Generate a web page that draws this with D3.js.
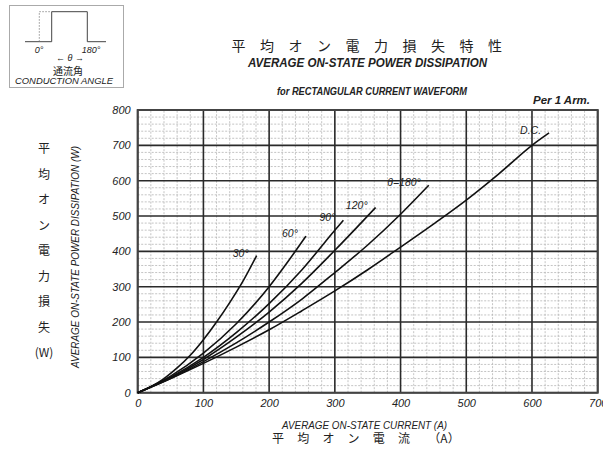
<!DOCTYPE html>
<html>
<head>
<meta charset="utf-8">
<script src="https://cdn.jsdelivr.net/npm/d3@7"></script>
<style>
  body { margin: 0; background: #fff; }
  svg { display: block; }
  .lat { font-family: "Liberation Sans", Arial, sans-serif; font-style: italic; fill: #222; }
  .jp { font-family: "Noto Sans CJK JP", sans-serif; fill: #222; }
</style>
</head>
<body>
<script>
// Average on-state power dissipation (W) vs average current (A), per conduction angle
const dcCurrent = [0, 50, 100, 150, 200, 250, 300, 350, 400, 450, 500, 550, 600, 626];
const dcPower   = [0, 40, 83, 129, 178, 232, 288, 348, 412, 477, 545, 620, 700, 735];

const deg180Current = [0, 50, 100, 150, 200, 250, 300, 350, 400, 443];
const deg180Power   = [0, 40, 88, 141, 200, 265, 340, 418, 505, 587];

const deg120Current = [0, 50, 100, 150, 200, 250, 300, 362];
const deg120Power   = [0, 42, 94, 157, 228, 310, 403, 524];

const deg90Current = [0, 50, 100, 150, 200, 250, 300, 313];
const deg90Power   = [0, 44, 100, 170, 252, 348, 460, 488];

const deg60Current = [0, 50, 100, 150, 200, 229, 256];
const deg60Power   = [0, 47, 112, 195, 300, 372, 443];

const deg30Current = [0, 20, 40, 60, 80, 100, 120, 140, 160, 181];
const deg30Power   = [0, 17, 40, 70, 106, 150, 200, 255, 315, 388];

const curveLabels = ["30°", "60°", "90°", "120°", "θ=180°", "D.C."];

const xTicks = [0, 100, 200, 300, 400, 500, 600, 700];
const yTicks = [0, 100, 200, 300, 400, 500, 600, 700, 800];

const titleChars = ["平", "均", "オ", "ン", "電", "力", "損", "失", "特", "性"];
const xTitleChars = ["平", "均", "オ", "ン", "電", "流"];
const yTitleChars = ["平", "均", "オ", "ン", "電", "力", "損", "失", "(W)"];

const series = [
  { label: curveLabels[0], current: deg30Current, power: deg30Power },
  { label: curveLabels[1], current: deg60Current, power: deg60Power },
  { label: curveLabels[2], current: deg90Current, power: deg90Power },
  { label: curveLabels[3], current: deg120Current, power: deg120Power },
  { label: curveLabels[4], current: deg180Current, power: deg180Power },
  { label: curveLabels[5], current: dcCurrent, power: dcPower }
];

const W = 603, H = 450;
const svg = d3.select("body").append("svg").attr("width", W).attr("height", H);

const x = d3.scaleLinear().domain([0, 700]).range([137.7, 597.7]);
const y = d3.scaleLinear().domain([0, 800]).range([392.7, 110]);

// minor grid (every 20)
const plot = svg.append("g");
plot.selectAll(".minor-x")
  .data(d3.range(0, 701, 20).filter(v => v % 100 !== 0))
  .join("line")
  .attr("x1", d => x(d)).attr("x2", d => x(d))
  .attr("y1", y(0)).attr("y2", y(800))
  .attr("stroke", "#b5b5b5").attr("stroke-width", 0.8).attr("stroke-dasharray", "2,1.5");
plot.selectAll(".minor-y")
  .data(d3.range(0, 801, 20).filter(v => v % 100 !== 0))
  .join("line")
  .attr("y1", d => y(d)).attr("y2", d => y(d))
  .attr("x1", x(0)).attr("x2", x(700))
  .attr("stroke", "#b5b5b5").attr("stroke-width", 0.8).attr("stroke-dasharray", "2,1.5");

// major grid
plot.selectAll(".major-x")
  .data(xTicks)
  .join("line")
  .attr("x1", d => x(d)).attr("x2", d => x(d))
  .attr("y1", y(0)).attr("y2", y(800))
  .attr("stroke", "#2a2a2a").attr("stroke-width", 1.6);
plot.selectAll(".major-y")
  .data(yTicks)
  .join("line")
  .attr("y1", d => y(d)).attr("y2", d => y(d))
  .attr("x1", x(0)).attr("x2", x(700))
  .attr("stroke", "#2a2a2a").attr("stroke-width", 1.6);

plot.append("rect")
  .attr("x", x(0)).attr("y", y(800))
  .attr("width", x(700) - x(0)).attr("height", y(0) - y(800))
  .attr("fill", "none").attr("stroke", "#444").attr("stroke-width", 2);

// axes
const xAxis = svg.append("g")
  .attr("transform", `translate(0,${y(0)})`)
  .call(d3.axisBottom(x).tickValues(xTicks).tickSize(0).tickPadding(4));
const yAxis = svg.append("g")
  .attr("transform", `translate(${x(0)},0)`)
  .call(d3.axisLeft(y).tickValues(yTicks).tickSize(0).tickPadding(7));
[xAxis, yAxis].forEach(a => {
  a.select(".domain").remove();
  a.selectAll("text")
    .attr("class", "lat")
    .attr("font-size", 11)
    .attr("fill", "#222");
});
xAxis.selectAll("text").attr("dy", "0.9em");

// curves
const line = d3.line().x(d => x(d[0])).y(d => y(d[1])).curve(d3.curveMonotoneX);
series.forEach(s => {
  const pts = s.current.map((c, i) => [c, s.power[i]]);
  svg.append("path")
    .attr("d", line(pts))
    .attr("fill", "none")
    .attr("stroke", "#111")
    .attr("stroke-width", 1.6);
  const last = pts[pts.length - 1];
  svg.append("text")
    .attr("class", "lat")
    .attr("x", x(last[0]) - 8)
    .attr("y", y(last[1]) + 1)
    .attr("text-anchor", "end")
    .attr("font-size", 10.5)
    .text(s.label);
});

// titles
function fitText(t, x0, x1, yy, size, cls) {
  return svg.append("text")
    .attr("class", cls)
    .attr("x", x0).attr("y", yy)
    .attr("font-size", size)
    .attr("textLength", x1 - x0)
    .attr("lengthAdjust", "spacingAndGlyphs")
    .text(t);
}
svg.selectAll(".title-jp")
  .data(titleChars)
  .join("text")
  .attr("class", "jp")
  .attr("x", (d, i) => 238.5 + i * 28.5)
  .attr("y", 51)
  .attr("text-anchor", "middle")
  .attr("font-size", 14)
  .text(d => d);
fitText("AVERAGE ON-STATE POWER DISSIPATION", 248, 487, 67, 12.5, "lat").attr("font-weight", "bold");
fitText("for RECTANGULAR CURRENT WAVEFORM", 277, 467, 95, 10, "lat").attr("font-weight", "bold");
fitText("Per 1 Arm.", 533, 590, 104, 10, "lat").attr("font-style", "normal").attr("font-weight", "bold");

fitText("AVERAGE ON-STATE CURRENT (A)", 282, 447, 428.5, 10.5, "lat");
svg.selectAll(".xtitle-jp")
  .data(xTitleChars)
  .join("text")
  .attr("class", "jp")
  .attr("x", (d, i) => 278 + i * 25.2)
  .attr("y", 443)
  .attr("text-anchor", "middle")
  .attr("font-size", 12)
  .text(d => d);
svg.append("text")
  .attr("class", "jp")
  .attr("x", 444).attr("y", 443)
  .attr("text-anchor", "middle")
  .attr("font-size", 12)
  .text("（A）");

// y axis titles
svg.append("text")
  .attr("class", "lat")
  .attr("transform", "translate(79,257) rotate(-90)")
  .attr("text-anchor", "middle")
  .attr("font-size", 10.5)
  .attr("textLength", 222)
  .attr("lengthAdjust", "spacingAndGlyphs")
  .text("AVERAGE ON-STATE POWER DISSIPATION (W)");

svg.selectAll(".jpy")
  .data(yTitleChars)
  .join("text")
  .attr("class", "jp")
  .attr("x", 44)
  .attr("y", (d, i) => 153 + i * 25.5)
  .attr("text-anchor", "middle")
  .attr("font-size", 12)
  .text(d => d);

// conduction angle inset
const inset = svg.append("g");
inset.append("rect")
  .attr("x", 9.5).attr("y", 5.5).attr("width", 114).attr("height", 82)
  .attr("fill", "none").attr("stroke", "#aaa").attr("stroke-width", 1);
inset.append("path")
  .attr("d", "M25,41.7 H51.7 V11.7 H87.3 V41.7 H106")
  .attr("fill", "none").attr("stroke", "#444").attr("stroke-width", 1);
inset.append("path")
  .attr("d", "M39.3,41.7 V11.7 H51.7")
  .attr("fill", "none").attr("stroke", "#777").attr("stroke-width", 0.8).attr("stroke-dasharray", "1.5,1.5");
inset.append("text").attr("class", "lat").attr("x", 39).attr("y", 52.5).attr("text-anchor", "middle")
  .attr("font-size", 9).text("0°");
inset.append("text").attr("class", "lat").attr("x", 91).attr("y", 52.5).attr("text-anchor", "middle")
  .attr("font-size", 9).text("180°");
inset.append("text").attr("class", "lat").attr("x", 70).attr("y", 61).attr("text-anchor", "middle")
  .attr("font-size", 9).attr("font-style", "normal").attr("fill", "#555").text("←  θ  →");
inset.append("text").attr("class", "jp").attr("x", 68).attr("y", 74.5).attr("text-anchor", "middle")
  .attr("font-size", 10).text("通流角");
svg.append("text").attr("class", "lat")
  .attr("x", 15).attr("y", 84)
  .attr("font-size", 9).attr("textLength", 98).attr("lengthAdjust", "spacingAndGlyphs")
  .text("CONDUCTION ANGLE");
</script>
</body>
</html>
